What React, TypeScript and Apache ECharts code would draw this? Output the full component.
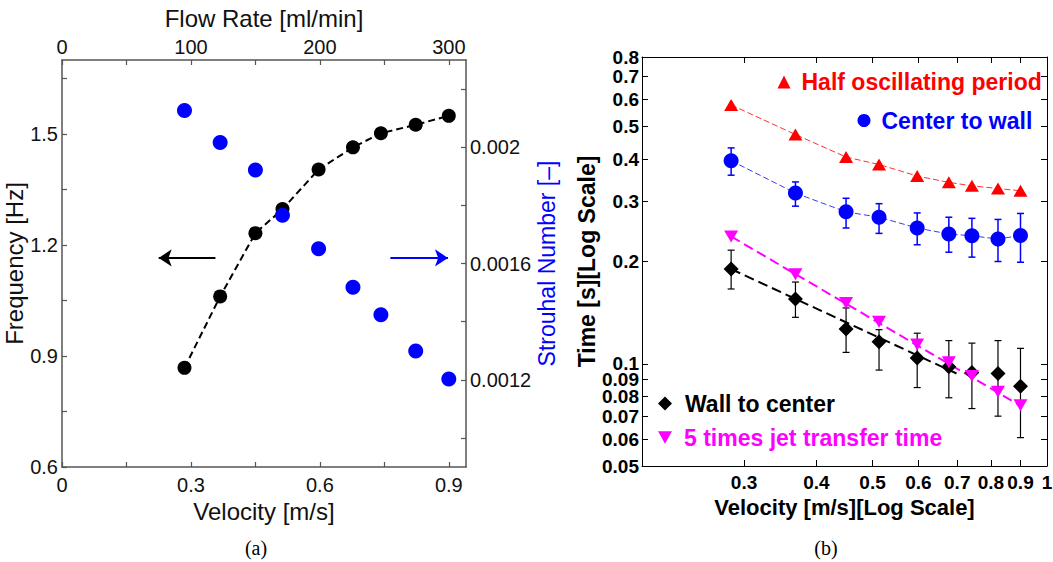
import React, { useEffect, useRef } from "react";
import * as echarts from "echarts";

// ---------- Panel (a) data ----------
const velocity = [0.285, 0.368, 0.45, 0.513, 0.597, 0.677, 0.742, 0.823, 0.9];
const frequency = [0.868, 1.061, 1.232, 1.297, 1.404, 1.464, 1.502, 1.525, 1.549];
const strouhal = [0.002126, 0.002016, 0.001922, 0.001766, 0.001651, 0.001518, 0.001424, 0.001299, 0.001203];

const velRange = [0, 0.94];
const velTicks = [0, 0.15, 0.3, 0.45, 0.6, 0.75, 0.9];
const velLabels = [0, 0.3, 0.6, 0.9];
const flowRange = [0, 313.3];
const flowTicks = [0, 50, 100, 150, 200, 250, 300];
const flowLabels = [0, 100, 200, 300];
const freqRange = [0.6, 1.7];
const freqTicks = [0.6, 0.75, 0.9, 1.05, 1.2, 1.35, 1.5, 1.65];
const freqLabels = [0.6, 0.9, 1.2, 1.5];
const stRange = [0.0009, 0.0023];
const stTicks = [0.001, 0.0012, 0.0014, 0.0016, 0.0018, 0.002, 0.0022];
const stLabels = [0.0012, 0.0016, 0.002];

// arrows (velocity from -> to, at frequency level)
const freqArrowV = [0.357, 0.225];
const stArrowV = [0.764, 0.898];
const arrowLevel = [1.165];

// ---------- Panel (b) data ----------
const halfPeriod = [0.578, 0.473, 0.406, 0.386, 0.357, 0.342, 0.334, 0.328, 0.323];
const centerToWall = [0.396, 0.318, 0.28, 0.27, 0.251, 0.241, 0.238, 0.233, 0.2385];
const centerToWallLo = [0.359, 0.291, 0.251, 0.242, 0.224, 0.213, 0.206, 0.2, 0.199];
const centerToWallHi = [0.432, 0.343, 0.307, 0.296, 0.278, 0.27, 0.268, 0.266, 0.277];
const wallToCenter = [0.19, 0.155, 0.1265, 0.116, 0.104, 0.098, 0.0943, 0.0936, 0.0859];
const wallToCenterLo = [0.166, 0.137, 0.108, 0.0958, 0.0851, 0.0794, 0.0738, 0.0701, 0.0606];
const wallToCenterHi = [0.216, 0.174, 0.146, 0.126, 0.123, 0.117, 0.115, 0.117, 0.111];
const jetTime5 = [0.237, 0.1835, 0.151, 0.133, 0.114, 0.101, 0.092, 0.0827, 0.0755];
const wallFitV = [0.285, 0.698];
const wallFitT = [0.19, 0.0936];
const jetFitV = [0.285, 0.9];
const jetFitT = [0.237, 0.0752];

const logVelRange = [0.2, 1];
const logVelTicks = [0.3, 0.4, 0.5, 0.6, 0.7, 0.8, 0.9, 1];
const logTimeRange = [0.05, 0.8];
const logTimeTicks = [0.05, 0.06, 0.07, 0.08, 0.09, 0.1, 0.2, 0.3, 0.4, 0.5, 0.6, 0.7, 0.8];

const FONT = "'Liberation Sans', Arial, sans-serif";
const lg = (v: number) => Math.log10(v);
const fmtLin = (v: number) => String(+Number(v).toPrecision(6));
const fmtLog = (v: number) => String(parseFloat(Math.pow(10, v).toPrecision(3)));

function linAxis(grid: number, position: string, range: number[], ticks: number[], labels: number[] | null, extra: any = {}) {
  const vertical = position === "left" || position === "right";
  return {
    type: "value",
    gridIndex: grid,
    position,
    min: range[0],
    max: range[1],
    splitLine: { show: false },
    axisLine: { show: true, onZero: false, lineStyle: { color: "#555", width: 1.5 } },
    axisTick: { show: true, inside: true, length: 5, customValues: ticks, lineStyle: { color: "#555", width: 1.2 } },
    axisLabel: labels
      ? {
          show: true,
          customValues: labels,
          formatter: fmtLin,
          fontFamily: FONT,
          fontSize: 20,
          color: "#111",
          margin: vertical ? 4 : position === "top" ? 3 : 8,
          showMinLabel: true,
          showMaxLabel: true,
        }
      : { show: false },
    ...extra,
  };
}

function logAxis(grid: number, position: string, range: number[], ticks: number[], showLabels: boolean, extra: any = {}) {
  const vertical = position === "left" || position === "right";
  const lt = ticks.map(lg);
  return {
    type: "value",
    gridIndex: grid,
    position,
    min: lg(range[0]),
    max: lg(range[1]),
    splitLine: { show: false },
    axisLine: { show: true, onZero: false, lineStyle: { color: "#000", width: 1 } },
    axisTick: { show: true, inside: true, length: 6, customValues: lt, lineStyle: { color: "#000", width: 1 } },
    axisLabel: showLabels
      ? {
          show: true,
          customValues: lt,
          formatter: fmtLog,
          fontFamily: FONT,
          fontSize: 19,
          fontWeight: "bold",
          color: "#000",
          margin: vertical ? 3 : 7,
          showMinLabel: true,
          showMaxLabel: true,
        }
      : { show: false },
    ...extra,
  };
}

function errorBars(lo: number[], hi: number[], color: string, width: number) {
  return {
    type: "custom",
    xAxisIndex: 2,
    yAxisIndex: 2,
    silent: true,
    z: 2,
    encode: { x: 0, y: [1, 2] },
    data: velocity.map((v, i) => [lg(v), lg(lo[i]), lg(hi[i])]),
    renderItem: (params: any, api: any) => {
      const x = api.value(0);
      const pLo = api.coord([x, api.value(1)]);
      const pHi = api.coord([x, api.value(2)]);
      const c = 3.5;
      const style = { stroke: color, lineWidth: width };
      return {
        type: "group",
        children: [
          { type: "line", shape: { x1: pLo[0], y1: pLo[1], x2: pHi[0], y2: pHi[1] }, style },
          { type: "line", shape: { x1: pHi[0] - c, y1: pHi[1], x2: pHi[0] + c, y2: pHi[1] }, style },
          { type: "line", shape: { x1: pLo[0] - c, y1: pLo[1], x2: pLo[0] + c, y2: pLo[1] }, style },
        ],
      };
    },
  };
}

const DOWN_TRI = "path://M0,0L10,0L5,9Z";

function legendItem(name: string, icon: string, color: string, left: number, top: number, size: number, pad: number) {
  return {
    data: [{ name, icon, textStyle: { color } }],
    left,
    top,
    itemWidth: size,
    itemHeight: size,
    padding: 0,
    selectedMode: false,
    textStyle: { fontFamily: FONT, fontSize: 23, fontWeight: "bold", padding: [0, 0, 0, pad] },
  };
}

function scatter(name: string, xi: number, yi: number, data: number[][], symbol: string, size: any, color: string, z: number) {
  return {
    name,
    type: "scatter",
    xAxisIndex: xi,
    yAxisIndex: yi,
    data,
    symbol,
    symbolSize: size,
    itemStyle: { color, opacity: 1 },
    z,
  };
}

function buildOption(): any {
  return {
    animation: false,
    backgroundColor: "#fff",
    textStyle: { fontFamily: FONT },
    grid: [
      { left: 62, top: 60, right: 587, bottom: 95, containLabel: false, outerBoundsMode: "none" },
      { left: 642, top: 57, right: 6, bottom: 96, containLabel: false, outerBoundsMode: "none" },
    ],
    xAxis: [
      linAxis(0, "bottom", velRange, velTicks, velLabels, {
        name: "Velocity [m/s]",
        nameLocation: "middle",
        nameGap: 26,
        nameTextStyle: { fontFamily: FONT, fontSize: 24, color: "#111" },
      }),
      linAxis(0, "top", flowRange, flowTicks, flowLabels, {
        name: "Flow Rate [ml/min]",
        nameLocation: "middle",
        nameGap: 30,
        nameTextStyle: { fontFamily: FONT, fontSize: 24, color: "#111" },
      }),
      logAxis(1, "bottom", logVelRange, logVelTicks, true, {
        name: "Velocity [m/s][Log Scale]",
        nameLocation: "middle",
        nameGap: 23,
        nameTextStyle: { fontFamily: FONT, fontSize: 22, fontWeight: "bold", color: "#000" },
      }),
      logAxis(1, "top", logVelRange, logVelTicks, false),
    ],
    yAxis: [
      linAxis(0, "left", freqRange, freqTicks, freqLabels, {
        name: "Frequency [Hz]",
        nameLocation: "middle",
        nameGap: 30,
        nameTextStyle: { fontFamily: FONT, fontSize: 24, color: "#111" },
      }),
      linAxis(0, "right", stRange, stTicks, stLabels, {
        name: "Strouhal Number [\u2013]",
        nameLocation: "middle",
        nameGap: 68,
        nameTextStyle: { fontFamily: FONT, fontSize: 23, color: "#0000ff" },
      }),
      logAxis(1, "left", logTimeRange, logTimeTicks, true, {
        name: "Time [s][Log Scale]",
        nameLocation: "middle",
        nameGap: 40,
        nameTextStyle: { fontFamily: FONT, fontSize: 23, fontWeight: "bold", color: "#000" },
      }),
      logAxis(1, "right", logTimeRange, logTimeTicks, false),
    ],
    legend: [
      legendItem("Half oscillating period", "triangle", "#ff0000", 777.5, 70.5, 13, 6),
      legendItem("Center to wall", "circle", "#0000ff", 857.5, 109, 13, 6),
      legendItem("Wall to center", "diamond", "#000", 658, 392, 14, 8),
      legendItem("5 times jet transfer time", DOWN_TRI, "#ff00ff", 658, 426, 14, 7),
    ],
    graphic: [
      { type: "text", style: { text: "(a)", x: 256, y: 548, align: "center", verticalAlign: "middle", font: "20px 'Liberation Serif', 'Times New Roman', serif", fill: "#000" } },
      { type: "text", style: { text: "(b)", x: 826, y: 548, align: "center", verticalAlign: "middle", font: "20px 'Liberation Serif', 'Times New Roman', serif", fill: "#000" } },
    ],
    series: [
      // ---------- Panel (a) ----------
      {
        name: "Frequency",
        type: "line",
        xAxisIndex: 0,
        yAxisIndex: 0,
        data: velocity.map((v, i) => [v, frequency[i]]),
        symbol: "circle",
        symbolSize: 14,
        showAllSymbol: true,
        itemStyle: { color: "#000", opacity: 1 },
        lineStyle: { color: "#000", width: 2, type: [7, 4] },
        z: 3,
        markLine: {
          silent: true,
          animation: false,
          symbol: ["none", "arrow"],
          symbolSize: 13,
          label: { show: false },
          lineStyle: { type: "solid", width: 2 },
          data: [
            [
              { coord: [freqArrowV[0], arrowLevel[0]], lineStyle: { color: "#000", width: 2, type: "solid" } },
              { coord: [freqArrowV[1], arrowLevel[0]] },
            ],
            [
              { coord: [stArrowV[0], arrowLevel[0]], lineStyle: { color: "#0000ff", width: 2, type: "solid" } },
              { coord: [stArrowV[1], arrowLevel[0]] },
            ],
          ],
        },
      },
      scatter("Strouhal", 0, 1, velocity.map((v, i) => [v, strouhal[i]]), "circle", 15, "#0000ff", 4),
      // ---------- Panel (b) ----------
      {
        name: "halfLine",
        type: "line",
        xAxisIndex: 2,
        yAxisIndex: 2,
        data: velocity.map((v, i) => [lg(v), lg(halfPeriod[i])]),
        symbol: "none",
        lineStyle: { color: "#ff3030", width: 1, type: [6, 3] },
        z: 1,
      },
      {
        name: "centerLine",
        type: "line",
        xAxisIndex: 2,
        yAxisIndex: 2,
        data: velocity.map((v, i) => [lg(v), lg(centerToWall[i])]),
        symbol: "none",
        lineStyle: { color: "#3a3aff", width: 1, type: [6, 3] },
        z: 1,
      },
      {
        name: "wallFit",
        type: "line",
        xAxisIndex: 2,
        yAxisIndex: 2,
        data: wallFitV.map((v, i) => [lg(v), lg(wallFitT[i])]),
        symbol: "none",
        lineStyle: { color: "#000", width: 2, type: [10, 5] },
        z: 1,
      },
      {
        name: "jetFit",
        type: "line",
        xAxisIndex: 2,
        yAxisIndex: 2,
        data: jetFitV.map((v, i) => [lg(v), lg(jetFitT[i])]),
        symbol: "none",
        lineStyle: { color: "#ff00ff", width: 2, type: [10, 5] },
        z: 1,
      },
      errorBars(centerToWallLo, centerToWallHi, "#0000ff", 1.5),
      errorBars(wallToCenterLo, wallToCenterHi, "#000", 1.2),
      scatter("Half oscillating period", 2, 2, velocity.map((v, i) => [lg(v), lg(halfPeriod[i])]), "triangle", [14, 12], "#ff0000", 5),
      scatter("Center to wall", 2, 2, velocity.map((v, i) => [lg(v), lg(centerToWall[i])]), "circle", 15, "#0000ff", 5),
      scatter("Wall to center", 2, 2, velocity.map((v, i) => [lg(v), lg(wallToCenter[i])]), "diamond", 15, "#000", 5),
      scatter("5 times jet transfer time", 2, 2, velocity.map((v, i) => [lg(v), lg(jetTime5[i])]), DOWN_TRI, [14, 12], "#ff00ff", 6),
    ],
  };
}

export default function App() {
  const ref = useRef<HTMLDivElement>(null);
  useEffect(() => {
    if (!ref.current) return;
    const chart = echarts.init(ref.current, undefined, { renderer: "svg" });
    chart.setOption(buildOption());
    return () => chart.dispose();
  }, []);
  return (
    <div
      ref={ref}
      style={{ position: "absolute", left: 0, top: 0, width: 1053, height: 562, background: "#fff" }}
    />
  );
}
